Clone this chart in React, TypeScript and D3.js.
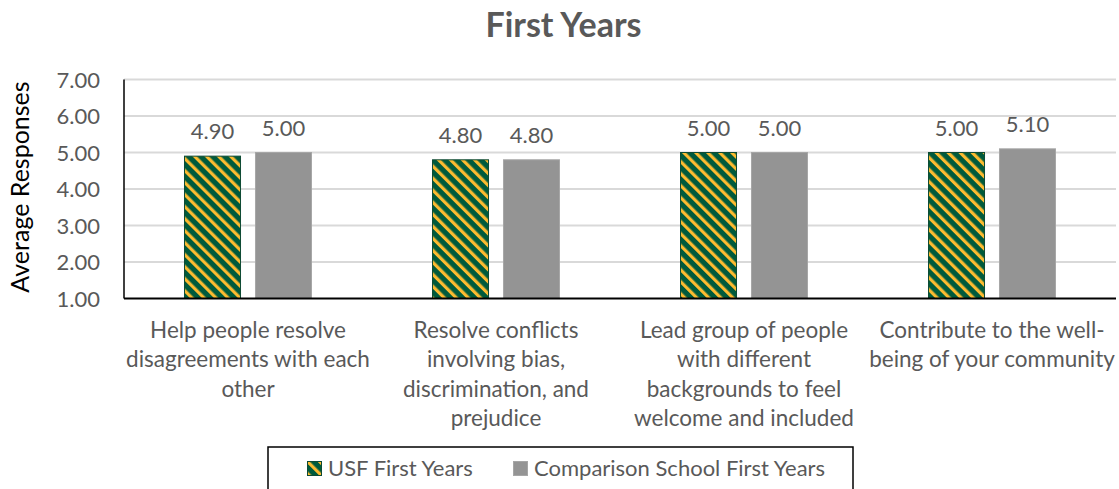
import React from "react";
import * as d3 from "d3";

const title = "First Years";
const yAxisTitle = "Average Responses";
const categories = [
  "Help people resolve disagreements with each other",
  "Resolve conflicts involving bias, discrimination, and prejudice",
  "Lead group of people with different backgrounds to feel welcome and included",
  "Contribute to the well-being of your community",
];
const categoryLines = [
  ["Help people resolve", "disagreements with each", "other"],
  ["Resolve conflicts", "involving bias,", "discrimination, and", "prejudice"],
  ["Lead group of people", "with different", "backgrounds to feel", "welcome and included"],
  ["Contribute to the well-", "being of your community"],
];
const seriesNames = ["USF First Years", "Comparison School First Years"];
const usfValues = [4.9, 4.8, 5.0, 5.0];
const comparisonValues = [5.0, 4.8, 5.0, 5.1];
const yTicks = [1, 2, 3, 4, 5, 6, 7];

const FONT = "Lato, 'Open Sans', sans-serif";
const TEXT = "#595959";
const GREEN = "#005A3C";
const YELLOW = "#FDBB30";
const GRAY = "#949494";
const P = 8.5;

export default function App() {
  const left = 124;
  const right = 1116;
  const top = 79.5;
  const bottom = 298.5;

  const x = d3.scaleBand<string>().domain(categories).range([left, right]).paddingInner(0.488).paddingOuter(0.244);
  const xInner = d3.scaleBand<string>().domain(seriesNames).range([0, x.bandwidth()]).paddingInner(0.211).paddingOuter(0);
  const y = d3.scaleLinear().domain([1, 7]).range([bottom, top]);

  const series = [
    { name: seriesNames[0], values: usfValues, fill: "url(#usfStripe)", stroke: "#0E4A33" },
    { name: seriesNames[1], values: comparisonValues, fill: GRAY, stroke: "#A6A6A6" },
  ];

  return (
    <svg width={1119} height={489} style={{ position: "absolute", left: 0, top: 0, background: "#fff" }}>
      <defs>
        <pattern id="usfStripe" patternUnits="userSpaceOnUse" width={P} height={P} patternTransform="rotate(-45)">
          <rect x={0} y={0} width={P} height={P} fill={GREEN} />
          <rect x={0} y={0} width={3.2} height={P} fill={YELLOW} />
        </pattern>
      </defs>

      <text x={563.5} y={37} textAnchor="middle" fontFamily={FONT} fontWeight="bold" fontSize={34} fill={TEXT}>
        {title}
      </text>

      {yTicks.slice(1).map((t) => (
        <line key={t} x1={left} x2={right} y1={y(t)} y2={y(t)} stroke="#D9D9D9" strokeWidth={2} />
      ))}

      {yTicks.map((t) => (
        <text key={t} x={100} y={y(t) + 8} textAnchor="end" fontFamily={FONT} fontSize={22} fill={TEXT}>
          {d3.format(".2f")(t)}
        </text>
      ))}

      <text
        transform={`translate(29,187) rotate(-90)`}
        textAnchor="middle"
        fontFamily={FONT}
        fontSize={25}
        fill="#000"
      >
        {yAxisTitle}
      </text>

      {series.map((s) =>
        categories.map((c, i) => {
          const bx = (x(c) as number) + (xInner(s.name) as number);
          const by = y(s.values[i]);
          return (
            <g key={s.name + c}>
              <rect
                x={bx}
                y={by}
                width={xInner.bandwidth()}
                height={bottom - by}
                fill={s.fill}
                stroke={s.stroke}
                strokeWidth={1}
              />
              <text
                x={bx + xInner.bandwidth() / 2}
                y={by - 17}
                textAnchor="middle"
                fontFamily={FONT}
                fontSize={22}
                fill={TEXT}
              >
                {d3.format(".2f")(s.values[i])}
              </text>
            </g>
          );
        })
      )}

      <line x1={left} x2={left} y1={top} y2={bottom} stroke="#000" strokeWidth={1.5} />
      <line x1={left} x2={right} y1={bottom} y2={bottom} stroke="#000" strokeWidth={2} />

      {categories.map((c, i) => (
        <text key={c} textAnchor="middle" fontFamily={FONT} fontSize={22.5} fill={TEXT}>
          {categoryLines[i].map((ln, j) => (
            <tspan key={j} x={(x(c) as number) + x.bandwidth() / 2} y={338 + j * 29.3}>
              {ln}
            </tspan>
          ))}
        </text>
      ))}

      <rect x={268} y={447} width={585} height={60} fill="#fff" stroke="#000" strokeWidth={1.5} />
      <rect x={307.5} y={461.5} width={14} height={14} fill="url(#usfStripe)" stroke="#0E4A33" strokeWidth={1} />
      <text x={328} y={476} fontFamily={FONT} fontSize={22} fill={TEXT}>
        {seriesNames[0]}
      </text>
      <rect x={513.5} y={461.5} width={14} height={14} fill={GRAY} stroke="#A6A6A6" strokeWidth={1} />
      <text x={534} y={476} fontFamily={FONT} fontSize={22} fill={TEXT}>
        {seriesNames[1]}
      </text>
    </svg>
  );
}
